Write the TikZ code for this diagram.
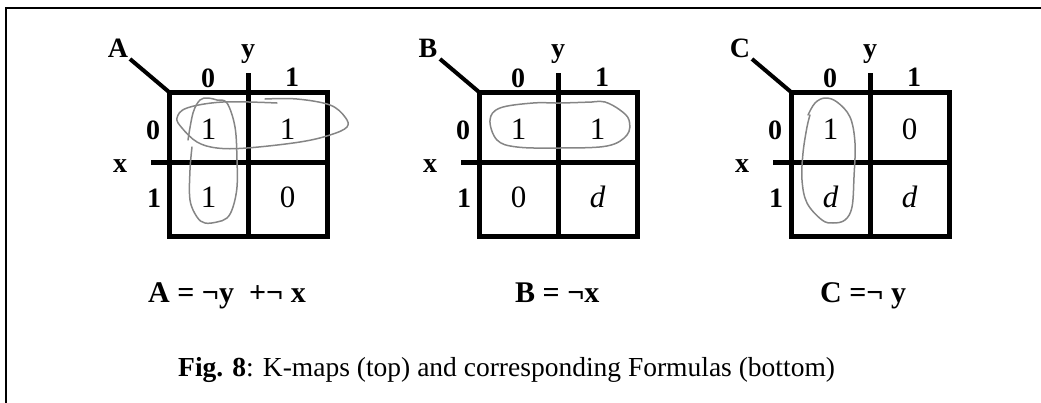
\documentclass[tikz,border=0pt]{standalone}
\usepackage{fontspec}
\setmainfont{Liberation Serif}
\begin{document}
\begin{tikzpicture}[x=1pt,y=-1pt,
  frameline/.style={line width=2.4pt,line cap=rect},
  gridline/.style={line width=5pt},
  lbl/.style={font=\fontsize{28}{32}\selectfont\bfseries,inner sep=0pt,anchor=base},
  cellval/.style={font=\fontsize{31}{36}\selectfont,inner sep=0pt,anchor=base},
  formula/.style={font=\fontsize{30}{34}\selectfont\bfseries,inner sep=0pt,anchor=base west},
  caption/.style={font=\fontsize{27.5}{32}\selectfont,inner sep=0pt,anchor=base west},
  loop/.style={draw=black!48,line width=1.5pt,line join=round,line cap=round}]
\useasboundingbox (0,0) rectangle (1041,402);
\coordinate (fr1) at (1041,7.8);
\coordinate (fr2) at (6.2,7.8);
\coordinate (fr3) at (6.2,402);
\draw[frameline] (fr1) -- (fr2) -- (fr3);
% K-map macro: #1 left edge, #2 name, #3-#6 cell values, #7 letter
\newcommand{\kmapdraw}[7]{%
  \coordinate (#2tl) at (#1,92);
  \coordinate (#2br) at (#1+158,236);
  \coordinate (#2vt) at (#1+79,73);
  \coordinate (#2vb) at (#1+79,236);
  \coordinate (#2hl) at (#1-18,162);
  \coordinate (#2hr) at (#1+158,162);
  \coordinate (#2diag) at (#1-39,59);
  \draw[gridline] (#2tl) rectangle (#2br);
  \draw[gridline] (#2vt) -- (#2vb);
  \draw[gridline] (#2hl) -- (#2hr);
  \draw[line width=4pt] (#2diag) -- (#2tl);
  \node[lbl] (#2name) at (#1-51,57) {#7};
  \node[lbl] (#2y) at (#1+79,57) {y};
  \node[lbl] (#2y0) at (#1+39,87) {0};
  \node[lbl] (#2y1) at (#1+123,86) {1};
  \node[lbl] (#2x0) at (#1-16,139) {0};
  \node[lbl] (#2x) at (#1-49,172) {x};
  \node[lbl] (#2x1) at (#1-15,207) {1};
  \node[cellval] (#2c00) at (#1+39.5,139) {#3};
  \node[cellval] (#2c01) at (#1+118.5,139) {#4};
  \node[cellval] (#2c10) at (#1+39.5,207) {#5};
  \node[cellval] (#2c11) at (#1+118.5,207) {#6};
}
\kmapdraw{169}{A}{1}{1}{1}{0}{A}
\kmapdraw{479}{B}{1}{1}{0}{\itshape d}{B}
\kmapdraw{791}{C}{1}{0}{\itshape d}{\itshape d}{C}
% hand-drawn loops
\draw[loop] plot[smooth,tension=0.6] coordinates {(277,103) (223,102) (187,108) (177,118) (182,128) (197,142) (217,148) (247,148) (300,142) (330,135) (347,127) (345,117) (330,105) (297,99) (265,99)};
\draw[loop] plot[smooth,tension=0.6] coordinates {(188,140) (193,113) (200,100) (208,98) (217,100) (227,103) (235,127) (237,160) (237,187) (233,207) (227,218) (217,222) (205,223) (197,217) (190,200) (190,170) (192,147)};
\draw[loop] plot[smooth,tension=0.6] coordinates {(592,102) (605,102) (620,110) (629,120) (627,135) (607,146) (560,148) (517,147) (497,140) (490,120) (500,108) (533,103) (560,103) (592,102)};
\draw[loop] plot[smooth,tension=0.6] coordinates {(808,115) (815,103) (825,98) (837,102) (850,117) (855,143) (854,177) (852,207) (845,220) (833,223) (822,220) (807,203) (802,180) (803,153) (807,127) (810,115)};
% formulas
\node[formula] (fA) at (148,302) {A = ¬y~~+¬ x};
\node[formula] (fB) at (515,302) {B = ¬x};
\node[formula] (fC) at (820,302) {C =¬ y};
\node[caption] (cap) at (178,376) {\textbf{Fig. 8}: K-maps (top) and corresponding Formulas (bottom)};
\end{tikzpicture}
\end{document}
